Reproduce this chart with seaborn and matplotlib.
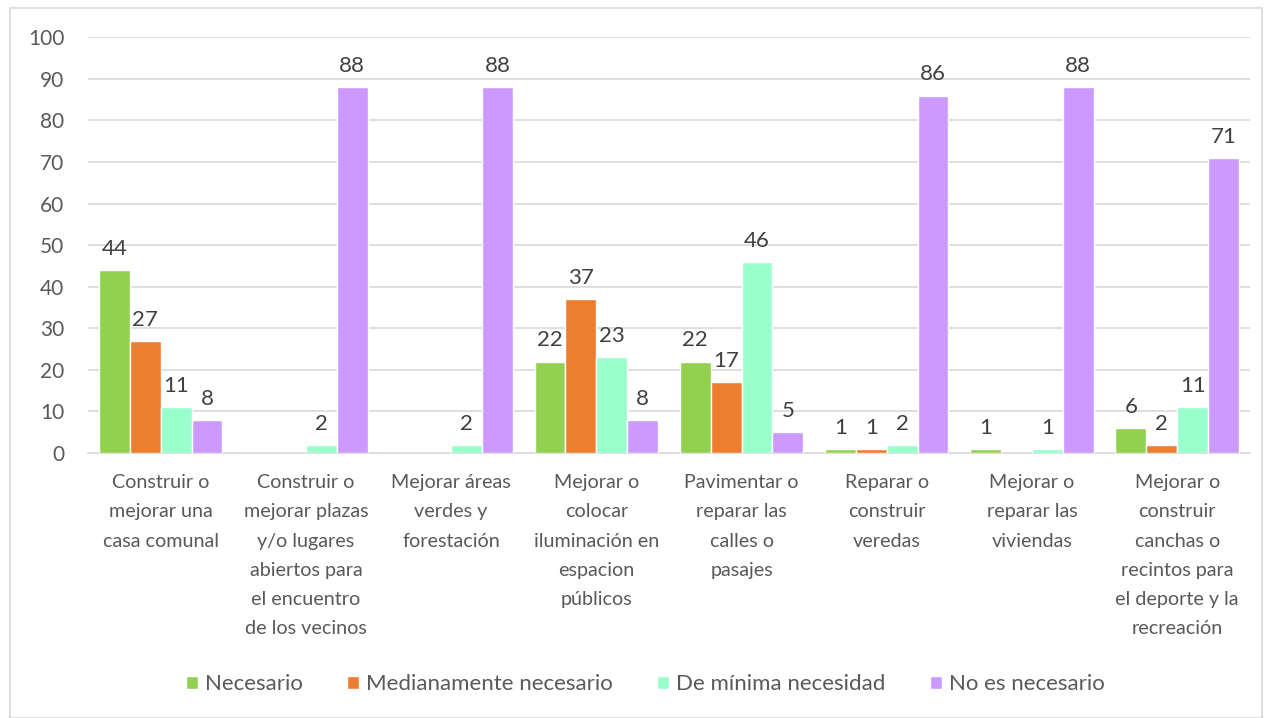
import matplotlib
matplotlib.use("Agg")
import matplotlib.pyplot as plt
import seaborn as sns
import pandas as pd
from matplotlib.patches import Rectangle

categories = [
    "Construir o\nmejorar una\ncasa comunal",
    "Construir o\nmejorar plazas\ny/o lugares\nabiertos para\nel encuentro\nde los vecinos",
    "Mejorar áreas\nverdes y\nforestación",
    "Mejorar o\ncolocar\niluminación en\nespacion\npúblicos",
    "Pavimentar o\nreparar las\ncalles o\npasajes",
    "Reparar o\nconstruir\nveredas",
    "Mejorar o\nreparar las\nviviendas",
    "Mejorar o\nconstruir\ncanchas o\nrecintos para\nel deporte y la\nrecreación",
]
series_names = ["Necesario", "Medianamente necesario", "De mínima necesidad", "No es necesario"]
necesario = [44, 0, 0, 22, 22, 1, 1, 6]
medianamente = [27, 0, 0, 37, 17, 1, 0, 2]
minima = [11, 2, 2, 23, 46, 2, 1, 11]
no_necesario = [8, 88, 88, 8, 5, 86, 88, 71]
colors = ["#92D050", "#ED7D31", "#99FFCC", "#CC99FF"]

rows = []
for name, vals in zip(series_names, [necesario, medianamente, minima, no_necesario]):
    for c, v in zip(categories, vals):
        rows.append({"cat": c, "serie": name, "valor": v})
df = pd.DataFrame(rows)

sns.set_theme(style="white")
plt.rcParams["font.family"] = ["Lato", "DejaVu Sans"]

fig = plt.figure(figsize=(12.65, 7.18), dpi=100)
ax = fig.add_axes([0.0696, 0.369, 0.9184, 0.579])

sns.barplot(data=df, x="cat", y="valor", hue="serie", palette=colors,
            order=categories, hue_order=series_names, width=0.85,
            saturation=1, ax=ax, legend=True, zorder=3)

for cont in ax.containers:
    labels = [f"{int(b.get_height())}" if b.get_height() > 0 else "" for b in cont]
    ax.bar_label(cont, labels=labels, padding=8, fontsize=16, color="#404040")

ax.set_ylim(0, 100)
ax.set_yticks(range(0, 101, 10))
ax.yaxis.grid(True, color="#D9D9D9", linewidth=1.2, zorder=0)
ax.set_axisbelow(True)
for s in ["top", "right", "left"]:
    ax.spines[s].set_visible(False)
ax.spines["bottom"].set_color("#D9D9D9")
ax.spines["bottom"].set_linewidth(1.2)
ax.set_xlabel("")
ax.set_ylabel("")
ax.tick_params(axis="y", length=0, labelsize=15, labelcolor="#595959", pad=17)
ax.tick_params(axis="x", length=0, labelsize=14.2, labelcolor="#595959", pad=15)
for lbl in ax.get_xticklabels():
    lbl.set_linespacing(1.88)
ax.set_xlim(-0.5, len(categories) - 0.5)

handles, labs = ax.get_legend_handles_labels()
ax.legend_.remove()
leg = fig.legend(handles, labs, loc="center", bbox_to_anchor=(0.51, 0.047), ncol=4,
                 frameon=False, fontsize=16, handlelength=0.55, handleheight=0.55,
                 handletextpad=0.3, columnspacing=2.0)
for t in leg.get_texts():
    t.set_color("#595959")

fig.patches.append(Rectangle((10 / 1265, 0), 1252 / 1265, 1 - 8 / 718,
                             transform=fig.transFigure, fill=False,
                             edgecolor="#D9D9D9", linewidth=1.2))

fig.savefig("out.png", dpi=100)
